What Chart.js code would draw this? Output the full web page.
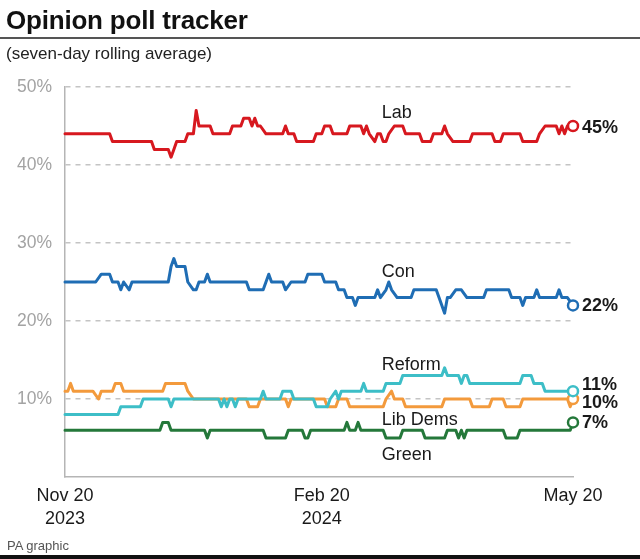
<!DOCTYPE html>
<html><head><meta charset="utf-8">
<script src="https://cdn.jsdelivr.net/npm/chart.js@4/dist/chart.umd.min.js"></script>
<style>
html,body{margin:0;padding:0;background:#fff;}
body{width:640px;height:559px;position:relative;overflow:hidden;font-family:"Liberation Sans",Arial,sans-serif;}
#wrap{position:absolute;left:0;top:0;width:640px;height:559px;}
#title{position:absolute;left:6px;top:5px;font-weight:bold;font-size:26px;color:#111;letter-spacing:-0.2px;white-space:nowrap;}
#rule{position:absolute;left:0;top:37px;width:640px;height:2px;background:#555;}
#sub{position:absolute;left:6px;top:44px;font-size:17px;color:#222;white-space:nowrap;}
#foot{position:absolute;left:7px;top:538px;font-size:13px;color:#555;white-space:nowrap;}
#bot{position:absolute;left:0;top:555px;width:640px;height:4px;background:#111;}
</style></head><body>
<div id="wrap"><canvas id="c" width="640" height="559"></canvas></div>
<div id="title">Opinion poll tracker</div>
<div id="rule"></div>
<div id="sub">(seven-day rolling average)</div>
<div id="foot">PA graphic</div>
<div id="bot"></div>
<script>
// Days since Nov 20 2023 (0 = Nov 20 2023, 92 = Feb 20 2024, 182 = May 20 2024)
const seriesNames = ["Lab", "Con", "Reform", "Lib Dems", "Green"];

const labDays = [0,16,17,31,32,37,38,39,40,43,44,46,47,48,52,53,59,60,63,64,66,67,68,69,70,72,78,79,80,82,83,89,90,92,93,95,96,101,102,106,107,108,109,111,112,113,114,115,116,118,121,122,127,128,131,132,135,136,137,139,145,146,153,154,156,157,163,164,169,170,172,176,177,178,179,180,182];
const labValues = [44,44,43,43,42,42,41,42,43,43,44,44,47,45,45,44,44,45,45,46,46,45,46,45,45,44,44,45,44,44,43,43,44,44,45,45,44,44,45,45,44,45,44,43,44,44,43,43,44,45,45,44,44,43,43,44,44,45,44,43,43,44,44,43,43,44,44,43,43,44,45,45,44,45,44,45,45];

const conDays = [0,11,13,16,17,19,20,21,23,24,37,38,39,40,43,44,46,47,48,50,51,52,65,66,71,73,74,78,79,81,86,87,92,93,97,98,100,101,103,104,105,111,112,113,115,116,117,119,124,125,133,134,136,137,138,140,142,144,150,151,159,160,163,164,165,168,169,170,176,177,178,180,182];
const conValues = [25,25,26,26,25,25,24,25,24,25,25,27,28,27,27,25,24,24,25,25,26,25,25,24,24,26,25,25,24,25,25,26,26,25,25,24,24,23,23,22,23,23,24,23,24,25,24,23,23,24,24,23,21,23,23,24,24,23,23,24,24,23,23,22,23,23,24,23,23,24,23,23,22];

const reformDays = [0,19,20,27,28,37,38,39,55,56,57,58,59,60,61,62,70,71,72,77,78,81,82,89,90,94,95,97,98,99,106,107,108,114,115,120,121,135,136,137,141,142,143,144,145,163,164,167,168,171,172,182];
const reformValues = [8,8,9,9,10,10,9,10,10,9,10,9,10,10,9,10,10,11,10,10,11,11,10,10,9,9,10,11,10,11,11,12,11,11,12,12,13,13,14,13,13,12,13,13,12,12,13,13,12,12,11,11];

const libDemDays = [0,1,2,3,10,12,13,17,18,20,21,35,36,43,44,46,65,66,69,70,79,80,81,93,94,97,98,101,102,114,115,117,118,121,122,135,136,145,146,152,153,157,158,163,164,180,181,182];
const libDemValues = [11,11,12,11,11,10,11,11,12,12,11,11,12,12,11,10,10,9,9,10,10,9,10,10,9,9,10,10,9,9,10,11,10,10,9,9,10,10,9,9,10,10,9,9,10,10,9,10];

const greenDays = [0,34,35,37,38,50,51,52,71,72,79,80,85,86,87,88,100,101,102,104,105,106,114,115,120,121,128,129,136,137,140,141,142,143,144,157,158,162,163,181,182];
const greenValues = [6,6,7,7,6,6,5,6,6,5,5,6,6,5,5,6,6,7,6,6,7,6,6,5,5,6,6,5,5,6,6,5,6,5,6,6,5,5,6,6,7];

const colors = ["#d7181f", "#1f6db4", "#3dbec7", "#f39a3c", "#24783a"];

const xTickDays = [0, 92, 182];
const xTickLabels = [["Nov 20", "2023"], ["Feb 20", "2024"], ["May 20"]];
const yTicks = [0, 10, 20, 30, 40, 50];

const FONT = '"Liberation Sans", Arial, sans-serif';

function pts(days, vals) { return days.map((d, i) => ({x: d, y: vals[i]})); }
const allDays = [labDays, conDays, reformDays, libDemDays, greenDays];
const allVals = [labValues, conValues, reformValues, libDemValues, greenValues];

const datasets = seriesNames.map((name, i) => ({
  label: name,
  data: pts(allDays[i], allVals[i]),
  borderColor: colors[i],
  borderWidth: 3,
  borderJoinStyle: 'round',
  borderCapStyle: 'round',
  tension: 0,
  fill: false,
  clip: false,
  pointRadius: (c) => c.dataIndex === allDays[i].length - 1 ? 5 : 0,
  pointHoverRadius: 0,
  pointBackgroundColor: '#ffffff',
  pointBorderColor: colors[i],
  pointBorderWidth: 2.5
}));

// label placement (day, value) and end-label vertical nudges
const namePos = [[113.5, 46.0], [113.5, 25.7], [113.5, 13.7], [113.5, 6.7], [113.5, 2.2]];
const endNudge = [2, 1, -6, 4, 1];

const labelPlugin = {
  id: 'seriesLabels',
  afterDatasetsDraw(chart) {
    const ctx = chart.ctx, xs = chart.scales.x, ys = chart.scales.y;
    ctx.save();
    ctx.font = '18px ' + FONT;
    ctx.fillStyle = '#1a1a1a';
    ctx.textAlign = 'left';
    ctx.textBaseline = 'alphabetic';
    seriesNames.forEach((n, i) => {
      ctx.fillText(n, xs.getPixelForValue(namePos[i][0]), ys.getPixelForValue(namePos[i][1]));
    });
    ctx.font = 'bold 18px ' + FONT;
    ctx.textBaseline = 'middle';
    chart.data.datasets.forEach((ds, i) => {
      const last = ds.data[ds.data.length - 1];
      ctx.fillText(last.y + '%', xs.getPixelForValue(last.x) + 9, ys.getPixelForValue(last.y) + endNudge[i]);
    });
    ctx.restore();
  }
};

new Chart(document.getElementById('c'), {
  type: 'line',
  data: { datasets },
  options: {
    responsive: false,
    animation: false,
    devicePixelRatio: 1,
    layout: { padding: { top: 87, left: 0, right: 67, bottom: 0 } },
    plugins: { legend: { display: false }, tooltip: { enabled: false } },
    scales: {
      x: {
        type: 'linear',
        min: 0, max: 182,
        afterFit: (s) => { s.height = 82; },
        afterBuildTicks: (s) => { s.ticks = xTickDays.map(v => ({value: v})); },
        grid: { display: false, drawTicks: false },
        border: { display: true, color: '#b5b5b5', width: 1.5 },
        ticks: {
          autoSkip: false, maxRotation: 0,
          padding: 8,
          color: '#1a1a1a',
          font: { family: FONT, size: 18, lineHeight: 1.25 },
          callback: (v) => { const k = xTickDays.indexOf(v); return k >= 0 ? xTickLabels[k] : ''; }
        }
      },
      y: {
        min: 0, max: 50,
        afterFit: (s) => { s.width = 65; },
        afterBuildTicks: (s) => { s.ticks = yTicks.map(v => ({value: v})); },
        grid: {
          drawTicks: false,
          color: (c) => c.tick && c.tick.value === 0 ? 'rgba(0,0,0,0)' : '#c4c4c4',
          lineWidth: 1.5
        },
        border: { display: true, color: '#b5b5b5', width: 1.5, dash: [5, 5] },
        ticks: {
          padding: 13,
          color: '#a3a3a3',
          font: { family: FONT, size: 17.5 },
          callback: (v) => v === 0 ? '' : v + '%'
        }
      }
    }
  },
  plugins: [labelPlugin]
});
</script>
</body></html>
